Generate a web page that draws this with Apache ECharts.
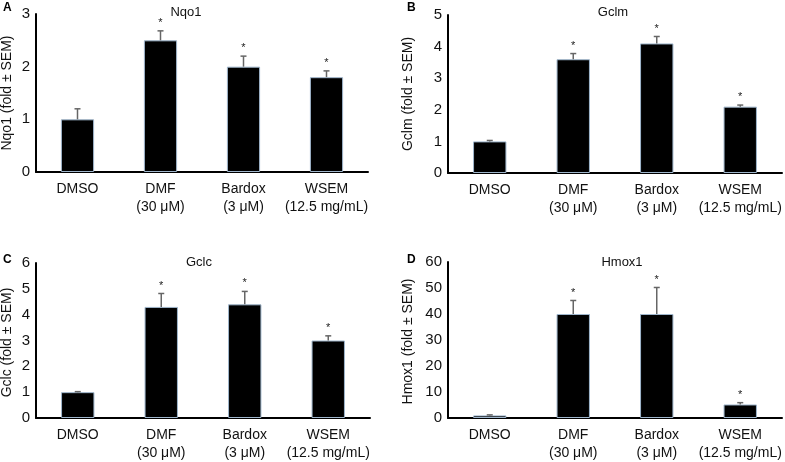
<!DOCTYPE html>
<html>
<head>
<meta charset="utf-8">
<script src="https://cdn.jsdelivr.net/npm/echarts@6/dist/echarts.min.js"></script>
<style>
html,body{margin:0;padding:0;background:#fff;}
#chart{width:785px;height:462px;}
</style>
</head>
<body>
<div id="chart"></div>
<script>
// ---- data ----
const categories = ['DMSO', 'DMF\n(30 μM)', 'Bardox\n(3 μM)', 'WSEM\n(12.5 mg/mL)'];
const panelTitles = ['Nqo1', 'Gclm', 'Gclc', 'Hmox1'];
const panelLetters = ['A', 'B', 'C', 'D'];
const yNames = ['Nqo1 (fold ± SEM)', 'Gclm (fold ± SEM)', 'Gclc (fold ± SEM)', 'Hmox1 (fold ± SEM)'];
const yMax = [3, 5, 6, 60];
const yInterval = [1, 1, 1, 10];

const nqo1Mean = [1.0, 2.5, 2.0, 1.8];
const nqo1Sem  = [0.2, 0.18, 0.2, 0.12];
const gclmMean = [1.0, 3.6, 4.1, 2.1];
const gclmSem  = [0.03, 0.18, 0.22, 0.05];
const gclcMean = [1.0, 4.3, 4.4, 3.0];
const gclcSem  = [0.02, 0.52, 0.5, 0.18];
const hmox1Mean = [1.0, 40, 40, 5.2];
const hmox1Sem  = [0.2, 5.2, 10.2, 0.7];
const significant = [false, true, true, true];

const means = [nqo1Mean, gclmMean, gclcMean, hmox1Mean];
const sems = [nqo1Sem, gclmSem, gclcSem, hmox1Sem];

// ---- layout ----
const grids = [
  {left: 36, top: 14, width: 332, height: 158},
  {left: 448, top: 15, width: 334, height: 158},
  {left: 36, top: 263, width: 334, height: 159},
  {left: 448, top: 262, width: 334, height: 159}
];
const titlePos = [[181, 1], [608, 1], [194, 251], [617, 251]];
const letterPos = [[3, 2], [407, 2], [3, 254], [407, 254]];
const yNamePos = [7, 408, 7, 408];

const font = 'Liberation Sans, Arial, sans-serif';
const chart = echarts.init(document.getElementById('chart'));

const option = {
  animation: false,
  backgroundColor: '#fff',
  title: [],
  grid: [],
  xAxis: [],
  yAxis: [],
  series: [],
  graphic: []
};

for (let i = 0; i < 4; i++) {
  const g = grids[i];
  option.grid.push({left: g.left, top: g.top, width: g.width, height: g.height, containLabel: false});
  option.xAxis.push({
    type: 'category', gridIndex: i, data: categories,
    axisLine: {lineStyle: {color: '#000', width: 2}},
    axisTick: {show: false},
    axisLabel: {color: '#111', fontFamily: font, fontSize: 14, lineHeight: 18, margin: 8, interval: 0}
  });
  option.yAxis.push({
    type: 'value', gridIndex: i, min: 0, max: yMax[i], interval: yInterval[i],
    axisLine: {show: true, lineStyle: {color: '#000', width: 2}},
    axisTick: {show: false},
    splitLine: {show: false},
    axisLabel: {color: '#111', fontFamily: font, fontSize: 15, margin: 6}
  });
  option.title.push({
    text: panelTitles[i], left: titlePos[i][0], top: titlePos[i][1],
    textAlign: 'center',
    textStyle: {fontFamily: font, fontSize: 13, fontWeight: 'normal', color: '#111'}
  });
  option.graphic.push({
    type: 'text', left: letterPos[i][0], top: letterPos[i][1],
    style: {text: panelLetters[i], font: 'bold 12px ' + font, fill: '#000'}
  });
  option.graphic.push({
    type: 'text', x: yNamePos[i], y: g.top + g.height / 2, rotation: Math.PI / 2,
    style: {text: yNames[i], font: '14px ' + font, fill: '#111', align: 'center', verticalAlign: 'middle'}
  });
  option.series.push({
    type: 'bar', xAxisIndex: i, yAxisIndex: i, data: means[i],
    barWidth: '40%',
    itemStyle: {color: '#000', borderColor: '#9fb6cc', borderWidth: 1}
  });
  const errData = means[i].map((m, k) => [k, m, m + sems[i][k], significant[k] ? 1 : 0]);
  option.series.push({
    type: 'custom', xAxisIndex: i, yAxisIndex: i, data: errData, z: 5,
    renderItem: function (params, api) {
      const x = api.value(0);
      const base = api.coord([x, api.value(1)]);
      const top = api.coord([x, api.value(2)]);
      const children = [
        {type: 'line', shape: {x1: base[0], y1: base[1], x2: top[0], y2: top[1]}, style: {stroke: '#666', lineWidth: 1.5}},
        {type: 'line', shape: {x1: top[0] - 3, y1: top[1], x2: top[0] + 3, y2: top[1]}, style: {stroke: '#666', lineWidth: 1.5}}
      ];
      if (api.value(3)) {
        children.push({type: 'text', x: top[0], y: top[1] - 8,
          style: {text: '*', font: '11px ' + font, fill: '#222', align: 'center', verticalAlign: 'middle'}});
      }
      return {type: 'group', children: children};
    }
  });
}

chart.setOption(option);
</script>
</body>
</html>
